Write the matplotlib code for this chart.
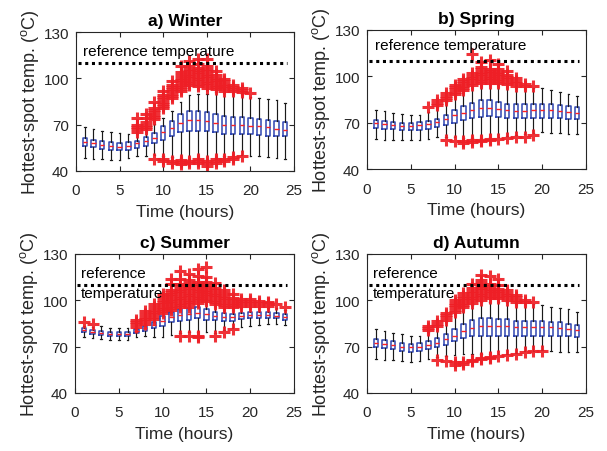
import matplotlib
matplotlib.use("Agg")
import matplotlib.pyplot as plt
import numpy as np

plt.rcParams["font.family"] = ["Liberation Sans", "DejaVu Sans"]
plt.rcParams["mathtext.fontset"] = "custom"
plt.rcParams["mathtext.rm"] = "Liberation Sans"

hours = list(range(1, 25))
ref_temp = 110

# ---------------- Winter ----------------
winter_med = [58.8, 58.3, 56.8, 56.2, 55.7, 56.4, 57.9, 59.6, 61.6, 65.0, 67.8, 71.1,
              73.2, 73.2, 72.4, 71.1, 70.0, 70.0, 70.0, 69.3, 68.9, 68.5, 67.4, 66.8]
winter_q1 = [56.0, 55.3, 54.2, 53.8, 53.6, 53.8, 54.9, 56.4, 57.9, 60.1, 62.4, 65.0,
             66.2, 65.7, 65.7, 65.0, 64.0, 63.7, 64.0, 63.7, 63.3, 62.9, 62.4, 62.4]
winter_q3 = [61.1, 60.3, 59.2, 58.6, 58.1, 58.6, 59.6, 61.8, 64.6, 68.9, 72.6, 76.9,
             79.1, 79.1, 78.4, 76.9, 75.4, 74.7, 74.7, 74.3, 73.7, 73.2, 72.6, 71.5]
winter_lo = [48.4, 47.8, 47.8, 47.3, 47.3, 48.2, 49.5, 49.5, 50.5, 49.5, 49.0, 48.5,
             48.0, 48.0, 48.0, 48.5, 49.5, 49.5, 50.5, 49.5, 49.5, 48.8, 48.2, 47.8]
winter_hi = [68.3, 67.2, 66.1, 65.5, 64.4, 64.0, 65.5, 67.6, 70.4, 74.1, 79.0, 85.0,
             89.0, 90.0, 90.0, 91.0, 93.0, 92.0, 89.8, 87.7, 87.0, 86.6, 86.0, 83.8]
winter_out_high = {
    7: [65.5, 67, 68.5, 70, 74],
    8: [67, 68.5, 70, 71.5, 74.5, 77],
    9: [73.5, 75, 76.5, 78, 79.5, 81, 84.5],
    10: [80.5, 82, 83.5, 85, 86.5, 88, 89.5, 91.5],
    11: [87, 88.5, 90, 91.5, 93, 94.5, 96, 98.5],
    12: [91.5, 93, 94.5, 96, 97.5, 99, 100.5, 102, 104, 108],
    13: [95.5, 97, 98.5, 100, 101.5, 103, 104.5, 106, 108, 111],
    14: [95, 96.5, 98, 99.5, 101, 102.5, 104, 105.5, 107, 109, 112.5],
    15: [94, 95.5, 97, 98.5, 100, 101.5, 103, 104.5, 106, 108, 112.5],
    16: [93, 94.5, 96, 97.5, 99, 100.5, 102, 104.5],
    17: [92, 93.5, 95, 96.5, 98, 99.5],
    18: [91.5, 93, 94.5, 96],
    19: [91, 92.5, 94],
    20: [90.5]}
winter_out_low = {9: [48.0], 10: [46.5, 48.0], 11: [45.0, 46.5], 12: [44.5, 46.0, 47.0],
                  13: [45.0, 46.5], 14: [45.0, 46.5, 47.5], 15: [43.5, 45.0, 46.5],
                  16: [45.0, 46.5, 47.5], 17: [46.5, 48.0], 18: [48.0, 49.0], 19: [49.5]}

# ---------------- Spring ----------------
spring_med = [69.8, 68.9, 68.3, 67.6, 67.6, 68.3, 68.9, 70.2, 72.6, 74.7, 76.3, 78.0,
              79.7, 79.7, 79.0, 78.4, 77.5, 77.5, 78.4, 78.4, 78.4, 77.5, 76.9, 76.3]
spring_q1 = [66.8, 66.1, 65.7, 65.0, 65.0, 65.5, 66.1, 67.2, 68.3, 69.8, 71.5, 73.2,
             73.7, 74.1, 73.7, 73.2, 73.0, 73.0, 73.2, 73.2, 73.2, 73.2, 72.6, 72.2]
spring_q3 = [71.9, 71.1, 70.4, 69.8, 69.8, 70.4, 71.1, 72.6, 75.2, 78.0, 80.6, 82.7,
             84.5, 84.5, 83.4, 81.9, 81.9, 81.9, 81.9, 81.9, 81.9, 81.2, 80.6, 80.1]
spring_lo = [59.6, 59.0, 59.0, 59.0, 58.6, 59.0, 59.6, 60.7, 60.5, 60.5, 60.0, 60.0,
             60.0, 60.5, 61.0, 61.5, 62.0, 62.4, 63.5, 64.0, 63.5, 63.0, 62.5, 62.4]
spring_hi = [78.0, 77.3, 76.3, 75.4, 74.7, 75.0, 76.9, 80.1, 83.4, 88.3, 92.0, 95.0,
             96.0, 96.0, 96.0, 95.0, 94.0, 93.1, 92.7, 92.7, 91.0, 89.9, 88.3, 87.5]
spring_out_high = {
    7: [80],
    8: [81.5, 83, 84.5],
    9: [84.5, 86, 87.5, 89],
    10: [88.5, 90, 91.5, 93, 94.5],
    11: [91, 92.5, 94, 95.5, 97, 98.5],
    12: [94.5, 96, 97.5, 99, 100.5, 102, 114.7],
    13: [95.5, 97, 98.5, 100, 101.5, 103, 104.5, 106, 109.3],
    14: [96, 97.5, 99, 100.5, 102, 103.5, 105, 110.4],
    15: [95.5, 97, 98.5, 100, 101.5, 103, 104.5, 108],
    16: [95, 96.5, 98, 99.5, 101, 103.5],
    17: [94, 95.5, 97, 99],
    18: [93.5, 95],
    19: [93.5]}
spring_out_low = {9: [58.6], 10: [58.1], 11: [56.8, 58.0], 12: [57.2, 58.5], 13: [58.0, 59.0],
                  14: [58.5, 59.5], 15: [59.4], 16: [59.9], 17: [60.5], 18: [61.0], 19: [62.0]}

# ---------------- Summer ----------------
summer_med = [80.6, 79.7, 79.1, 78.4, 78.0, 78.4, 80.0, 81.9, 84.0, 86.8, 89.0, 90.5,
              91.2, 91.8, 90.9, 90.1, 89.2, 89.0, 89.9, 90.5, 90.5, 90.5, 90.1, 89.4]
summer_q1 = [79.3, 78.4, 77.8, 77.1, 76.7, 77.1, 78.6, 80.4, 81.9, 83.2, 85.8, 86.8,
             87.5, 88.3, 87.5, 87.3, 86.8, 86.8, 87.9, 88.3, 88.3, 88.3, 88.3, 87.5]
summer_q3 = [81.9, 81.0, 80.1, 79.5, 79.3, 79.5, 81.4, 83.6, 86.2, 90.1, 92.7, 94.4,
             94.8, 95.5, 94.4, 92.7, 91.6, 91.2, 91.8, 92.2, 92.2, 92.2, 91.8, 91.2]
summer_lo = [76.0, 75.4, 75.0, 74.5, 74.3, 74.5, 76.0, 76.7, 76.0, 76.0, 77.5, 79.0,
             79.3, 79.3, 79.3, 78.6, 80.5, 82.0, 82.5, 83.2, 84.0, 84.7, 84.7, 84.0]
summer_hi = [83.6, 82.7, 83.2, 81.9, 81.9, 81.9, 84.0, 87.9, 91.2, 94.4, 98.0, 100.0,
             101.0, 102.0, 101.0, 99.0, 96.0, 96.0, 96.0, 95.5, 95.5, 95.5, 95.0, 94.0]
summer_out_high = {
    1: [86], 2: [85],
    7: [83, 84.5, 86, 87.5],
    8: [85, 86.5, 88, 89.5, 91, 93],
    9: [88, 89.5, 91, 92.5, 94, 95.5, 97.5],
    10: [91.5, 93, 94.5, 96, 97.5, 99, 100.5, 102, 104],
    11: [93.5, 95, 96.5, 98, 99.5, 101, 102.5, 104, 105.5, 107, 110.5, 114],
    12: [95.5, 97, 98.5, 100, 101.5, 103, 104.5, 106, 107.5, 109, 110.5, 114, 119],
    13: [96, 97.5, 99, 100.5, 102, 103.5, 105, 106.5, 108, 109.5, 111, 113, 117],
    14: [98.5, 100, 101.5, 103, 104.5, 106, 107.5, 109, 110.5, 112, 116, 120],
    15: [99.5, 101, 102.5, 104, 105.5, 107, 108.5, 110, 112, 115, 121.5],
    16: [97.5, 99, 100.5, 102, 103.5, 105, 106.5, 108, 111.5],
    17: [95.5, 97, 98.5, 100, 101.5, 103, 104.5, 107],
    18: [95.5, 97, 98.5, 100, 101.5, 104],
    19: [96.5, 98, 99.5, 101],
    20: [96.5, 98, 99.5, 101],
    21: [96.5, 98, 99.5],
    22: [96.5, 98, 99],
    23: [97.5],
    24: [95.5]}
summer_out_low = {12: [77.1], 13: [76.7], 14: [76.7, 76.2], 16: [77.1], 17: [79.3],
                  18: [81.2]}

# ---------------- Autumn ----------------
autumn_med = [72.4, 71.7, 71.1, 70.0, 70.0, 70.0, 71.1, 72.4, 75.0, 77.1, 80.4, 81.9,
              83.6, 83.6, 83.2, 83.2, 82.9, 82.9, 82.7, 82.7, 82.5, 81.9, 81.4, 80.8]
autumn_q1 = [69.6, 68.9, 68.3, 67.2, 66.8, 67.4, 68.5, 69.6, 71.1, 73.5, 75.4, 76.7,
             77.1, 77.1, 77.1, 77.1, 77.1, 77.1, 77.1, 77.1, 77.1, 76.7, 76.7, 76.3]
autumn_q3 = [75.0, 74.3, 73.5, 72.4, 71.7, 72.2, 73.5, 75.4, 78.2, 81.4, 84.7, 87.3,
             88.6, 88.6, 87.9, 87.9, 86.8, 86.8, 86.4, 86.4, 86.2, 85.8, 84.7, 84.0]
autumn_lo = [62.0, 61.6, 61.6, 61.0, 60.3, 61.0, 62.0, 63.0, 64.2, 64.5, 65.0, 65.0,
             65.0, 65.0, 65.2, 65.5, 66.0, 67.0, 67.5, 67.8, 67.4, 66.8, 66.3, 66.3]
autumn_hi = [81.4, 80.4, 78.8, 78.2, 77.1, 77.1, 79.3, 82.5, 86.8, 91.2, 94.4, 97.0,
             99.0, 99.0, 99.0, 99.0, 98.5, 98.5, 97.5, 97.0, 95.9, 94.8, 94.4, 92.2]
autumn_out_high = {
    7: [80.5, 82, 83.5],
    8: [83.5, 85, 86.5],
    9: [87.5, 89, 90.5, 92],
    10: [92.5, 94, 95.5, 97, 98.5, 100],
    11: [95.5, 97, 98.5, 100, 101.5, 103, 105],
    12: [98.5, 100, 101.5, 103, 104.5, 106, 108, 110.5],
    13: [100.5, 102, 103.5, 105, 106.5, 108, 109.5, 111, 113, 116.5],
    14: [101.5, 103, 104.5, 106, 107.5, 109, 110.5, 116],
    15: [101.5, 103, 104.5, 106, 107.5, 110, 114],
    16: [100.5, 102, 103.5, 105, 107],
    17: [99, 100.5, 102, 103.5],
    18: [99, 100.5],
    19: [99]}
autumn_out_low = {8: [61.6], 9: [61.0], 10: [58.1, 59.9], 11: [59.0, 60.2], 12: [60.5, 61.5],
                  13: [61.8, 62.8], 14: [62.5, 63.5], 15: [63.7], 16: [64.6], 17: [65.2],
                  18: [66.3], 19: [67.0], 20: [67.2]}

panels = [
    ("a) Winter", winter_med, winter_q1, winter_q3, winter_lo, winter_hi,
     winter_out_high, winter_out_low),
    ("b) Spring", spring_med, spring_q1, spring_q3, spring_lo, spring_hi,
     spring_out_high, spring_out_low),
    ("c) Summer", summer_med, summer_q1, summer_q3, summer_lo, summer_hi,
     summer_out_high, summer_out_low),
    ("d) Autumn", autumn_med, autumn_q1, autumn_q3, autumn_lo, autumn_hi,
     autumn_out_high, autumn_out_low),
]

# axes rectangles in figure pixels: (left, top, right, bottom)
W, H = 607, 452
rects_px = [(76, 33, 294, 172), (367, 31, 586, 170), (75, 255, 294, 394), (367, 255, 586, 394)]

BLUE = "#2f45b0"
RED = "#ee1f26"
INK = "#262626"

fig = plt.figure(figsize=(W / 100, H / 100), dpi=100)

for i, (title, med, q1, q3, lo, hi, out_hi, out_lo) in enumerate(panels):
    l, t, r, b = rects_px[i]
    ax = fig.add_axes([l / W, 1 - b / H, (r - l) / W, (b - t) / H])

    stats = []
    for k, h in enumerate(hours):
        fl = out_hi.get(h, []) + out_lo.get(h, [])
        stats.append(dict(med=med[k], q1=q1[k], q3=q3[k], whislo=lo[k], whishi=hi[k],
                          fliers=np.array(fl, dtype=float)))

    ax.bxp(stats, positions=hours, widths=0.5, capwidths=0.18, showfliers=True,
           manage_ticks=False,
           boxprops=dict(color=BLUE, linewidth=1.1),
           medianprops=dict(color="#ff2020", linewidth=1.0),
           whiskerprops=dict(color="#1a1a1a", linewidth=0.85, linestyle="-"),
           capprops=dict(color="#1a1a1a", linewidth=0.85),
           flierprops=dict(marker="+", markeredgecolor=RED, markersize=8.5,
                           markeredgewidth=2.2, alpha=0.92, linestyle="none"))

    # reference hottest-spot temperature
    ax.plot([0.25, 24.25], [ref_temp, ref_temp], color="black", linestyle=(0, (1, 1.2)),
            linewidth=2.2, zorder=3)
    if i < 2:
        ax.text(0.75 if i == 0 else 0.9, 118 if i == 0 else 120, "reference temperature",
                fontsize=11, ha="left", va="center")
    else:
        ax.text(0.65, 118, "reference", fontsize=11, ha="left", va="center")
        ax.text(0.65, 104.5, "temperature", fontsize=11, ha="left", va="center")

    ax.set_xlim(0, 25)
    ax.set_ylim(40, 130)
    ax.set_xticks([0, 5, 10, 15, 20, 25])
    ax.set_yticks([40, 70, 100, 130])
    ax.tick_params(direction="in", top=True, right=True, length=3.5, width=0.8,
                   labelsize=11, colors=INK)
    ax.tick_params(axis="x", pad=9)
    ax.tick_params(axis="y", pad=5)
    for s in ax.spines.values():
        s.set_linewidth(0.8)
        s.set_color(INK)
    ax.set_title(title, fontsize=12.5, fontweight="bold", pad=5)
    ax.set_xlabel("Time (hours)", fontsize=12.5, color=INK, labelpad=5)
    ax.set_ylabel(r"Hottest-spot temp. ($^{\rm o}$C)", fontsize=13, color=INK,
                  labelpad=2)

fig.savefig("out.png", dpi=100)
